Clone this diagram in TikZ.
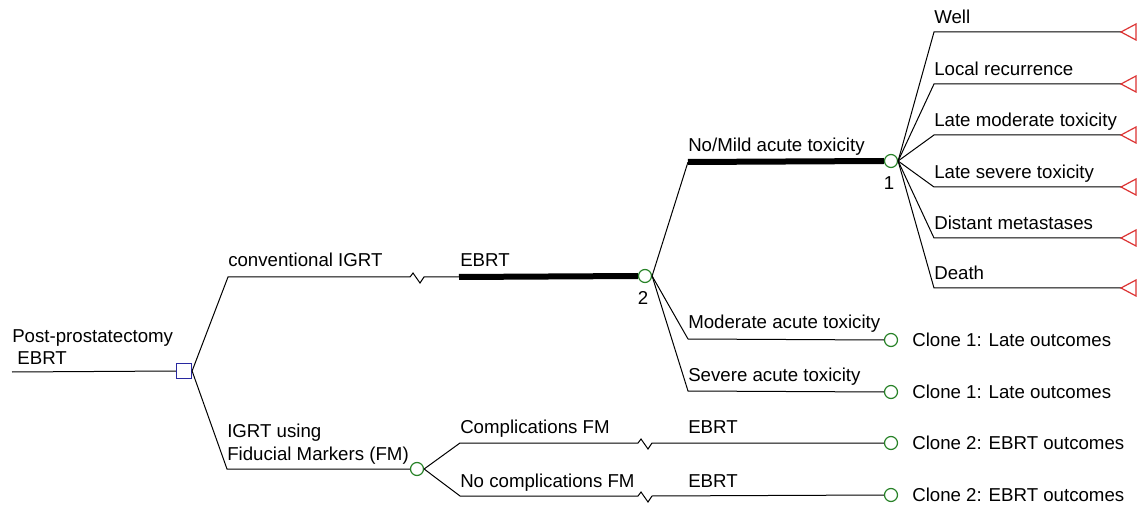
\documentclass[tikz,border=0pt]{standalone}
\usepackage{fontspec}
\setmainfont{Liberation Sans}
\definecolor{chgreen}{RGB}{40,130,40}
\definecolor{decblue}{RGB}{40,40,160}
\definecolor{termred}{RGB}{220,50,50}
\begin{document}
\begin{tikzpicture}[x=0.75pt,y=-0.75pt,
  font=\fontsize{14}{16}\selectfont,
  ln/.style={line width=0.75pt, black},
  thk/.style={line width=4.5pt, black},
  chance/.style={circle, draw=chgreen, fill=white, line width=0.9pt, minimum size=9.75pt, inner sep=0pt},
  dec/.style={rectangle, draw=decblue, fill=white, line width=0.9pt, minimum size=11.25pt, inner sep=0pt},
  lbl/.style={anchor=base west, inner sep=0pt},
  term/.style={draw=termred, line width=0.9pt, line join=miter}
]
\useasboundingbox (0,0) rectangle (1140,506);

% root
\coordinate (rootL) at (12,372);
\node[dec] (root) at (184,371) {};
\draw[ln] (rootL) -- (root.west);
\node[lbl] (rootT1) at (12,343) {Post-prostatectomy};
\node[lbl] (rootT2) at (12,364) {\ EBRT};

% upper: conventional IGRT
\coordinate (cA) at (228,277);
\coordinate (zA) at (410,277);
\coordinate (eA) at (459,277);
\node[chance] (n2) at (645,276) {};
\draw[ln] (root.east) -- (cA) -- (zA) -- ++(3,-4) -- ++(7,10) -- ++(4,-6) -- (eA);
\draw[thk] (eA) -- (n2.west);
\node[lbl] (tA) at (228,267) {conventional IGRT};
\node[lbl] (tA2) at (460,267) {EBRT};
\node (num2) at (643,298) {2};

% node 2 branches
\coordinate (cB) at (688,162);
\node[chance] (n1) at (891,161) {};
\draw[ln] (n2.east) -- (cB);
\draw[thk] (cB) -- (n1.west);
\node[lbl] (tB) at (688,152) {No/Mild acute toxicity};
\node (num1) at (889,183) {1};

\coordinate (cC) at (688,339);
\node[chance] (cl1) at (891,340) {};
\draw[ln] (n2.east) -- (cC) -- (cl1.west);
\node[lbl] (tC) at (688,329) {Moderate acute toxicity};
\node[anchor=west, inner sep=0pt] (tC2) at (912,340) {Clone 1: Late outcomes};

\coordinate (cD) at (688,391);
\node[chance] (cl2) at (891,392) {};
\draw[ln] (n2.east) -- (cD) -- (cl2.west);
\node[lbl] (tD) at (688,382) {Severe acute toxicity};
\node[anchor=west, inner sep=0pt] (tD2) at (912,392) {Clone 1: Late outcomes};

% node 1 branches
\foreach \y/\t [count=\i] in {32/Well, 84/Local recurrence, 135/Late moderate toxicity, 187/Late severe toxicity, 238/Distant metastases, 288/Death}{
  \coordinate (o\i) at (934,\y);
  \coordinate (t\i) at (1121,\y);
  \draw[ln] (n1.east) -- (o\i) -- (t\i);
  \draw[term] (t\i) -- ++(15,-8) -- ++(0,16) -- cycle;
  \node[lbl] (ol\i) at (934,\y-8) {\t};
}

% lower: IGRT using FM
\coordinate (cE) at (227,469);
\node[chance] (n3) at (417,469) {};
\draw[ln] (root.east) -- (cE) -- (n3.west);
\node[lbl] (tE1) at (227,437) {IGRT using};
\node[lbl] (tE2) at (227,460) {Fiducial Markers (FM)};

\coordinate (cF) at (460,443);
\coordinate (zF) at (638,443);
\node[chance] (cl3) at (891,443) {};
\draw[ln] (n3.east) -- (cF) -- (zF) -- ++(3,-4) -- ++(7,10) -- ++(4,-6) -- (cl3.west);
\node[lbl] (tF) at (460,433) {Complications FM};
\node[lbl] (tF2) at (688,433) {EBRT};
\node[anchor=west, inner sep=0pt] (tF3) at (912,443) {Clone 2: EBRT outcomes};

\coordinate (cG) at (460,496);
\coordinate (zG) at (638,496);
\node[chance] (cl4) at (891,495) {};
\draw[ln] (n3.east) -- (cG) -- (zG) -- ++(3,-4) -- ++(7,10) -- ++(4,-6) -- (cl4.west);
\node[lbl] (tG) at (460,487) {No complications FM};
\node[lbl] (tG2) at (688,487) {EBRT};
\node[anchor=west, inner sep=0pt] (tG3) at (912,495) {Clone 2: EBRT outcomes};
\end{tikzpicture}
\end{document}
